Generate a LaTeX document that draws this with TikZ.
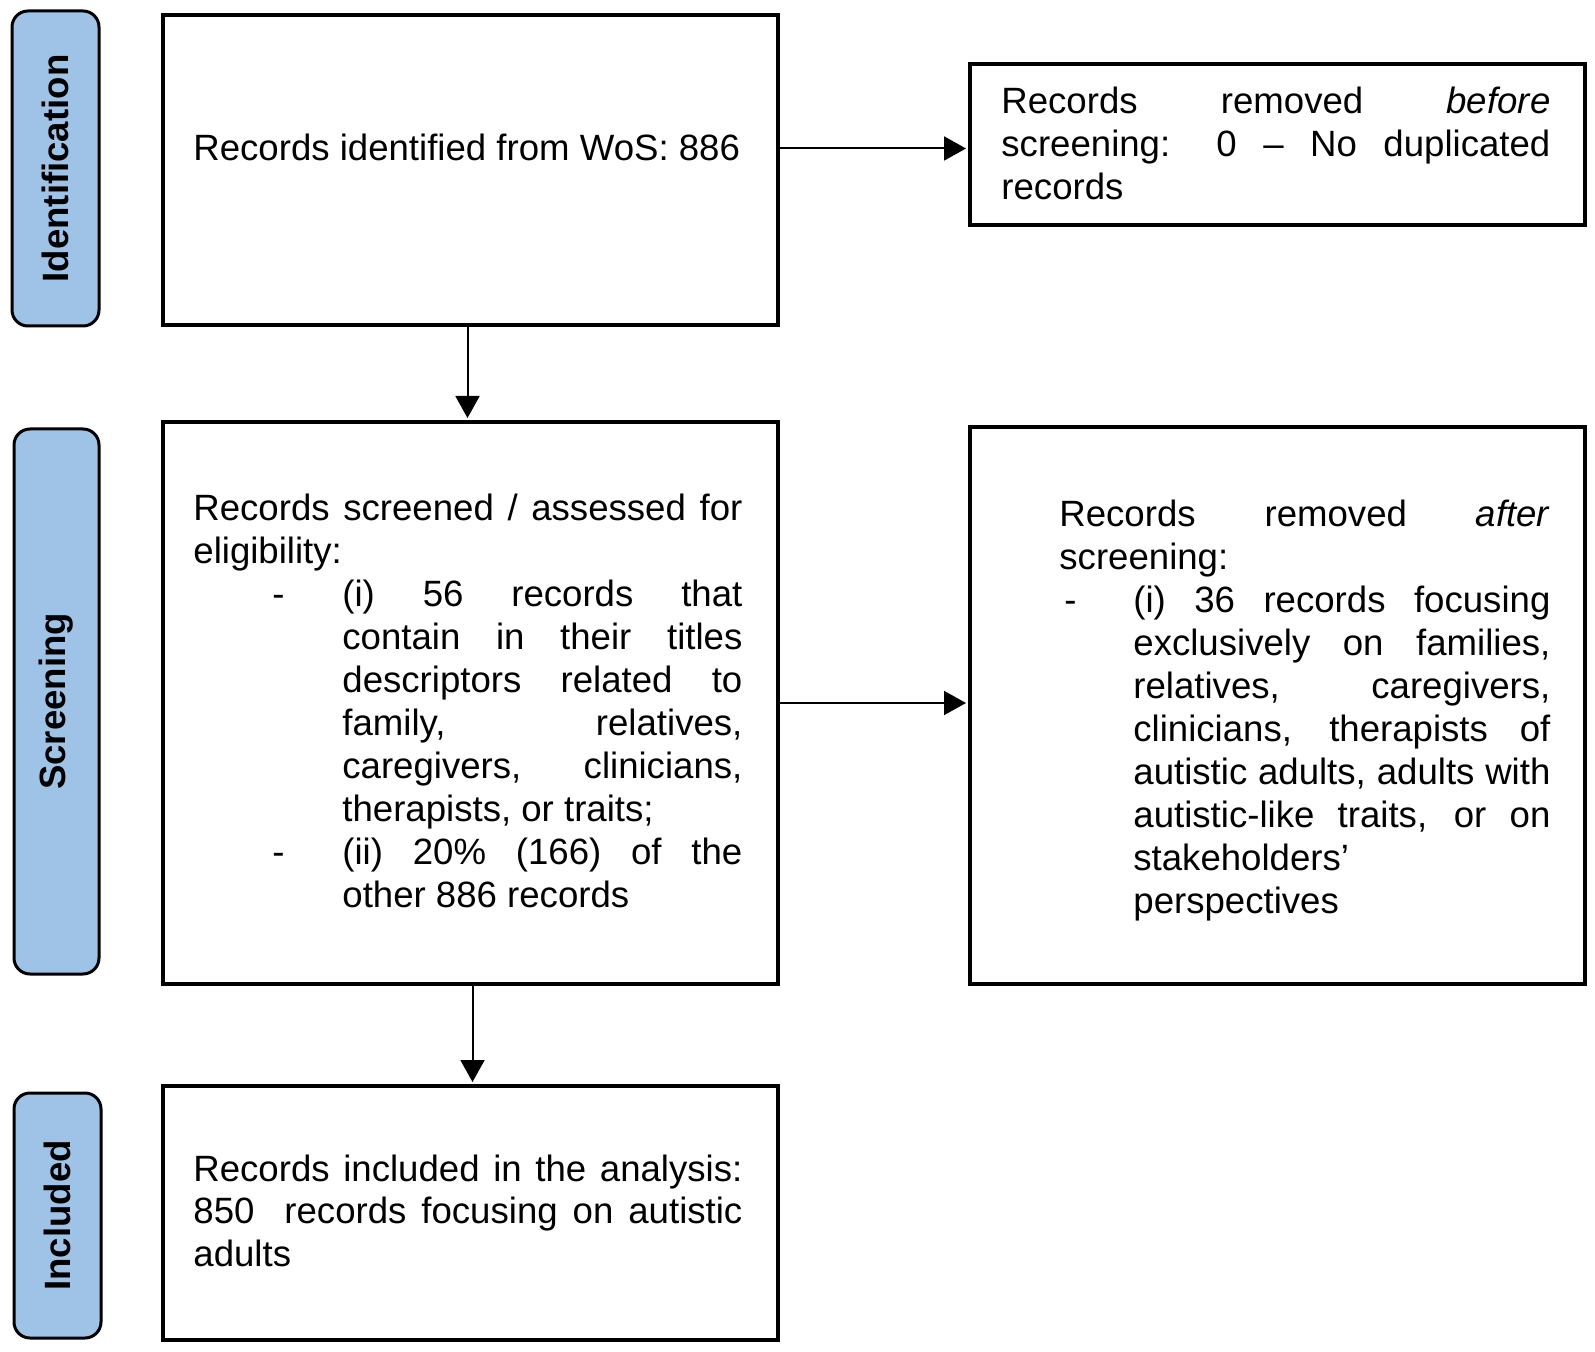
\documentclass[tikz,border=0pt]{standalone}
\usepackage{fontspec}
\setmainfont{Liberation Sans}
\usetikzlibrary{arrows.meta}
\definecolor{lblue}{HTML}{9FC3E7}
\newlength\itemind
\newlength\dashoff
\newcommand\JL[1]{\makebox[\linewidth][s]{#1}\par}
\newcommand\LL[1]{\makebox[\linewidth][l]{#1}\par}
\newcommand\DI[1]{\makebox[\itemind][l]{\hspace*{\dashoff}-}\makebox[\dimexpr\linewidth-\itemind\relax][s]{#1}\par}
\newcommand\JI[1]{\hspace*{\itemind}\makebox[\dimexpr\linewidth-\itemind\relax][s]{#1}\par}
\newcommand\LI[1]{\hspace*{\itemind}\makebox[\dimexpr\linewidth-\itemind\relax][l]{#1}\par}
\hbadness=10000
\begin{document}
\begin{tikzpicture}[x=0.5pt,y=-0.5pt,
  font=\fontsize{18.3pt}{21.45pt}\selectfont,
  box/.style={draw=black, line width=2pt, fill=white, anchor=north west, inner sep=0pt},
  lbl/.style={draw=black, line width=1.5pt, fill=lblue, rounded corners=8pt, inner sep=0pt,
    font=\fontsize{18.3pt}{21.45pt}\selectfont\bfseries, rotate=90},
  txt/.style={anchor=base west, inner sep=0pt},
  arr/.style={draw=black, line width=1pt, -{Triangle[length=11pt,width=12pt]}, shorten >=1pt}]
\useasboundingbox (0,0) rectangle (1595,1352);
% stage labels
\node[lbl, minimum width=157.5pt, minimum height=43.5pt] (ident) at (55.5,168.5) {Identification};
\node[lbl, minimum width=272.5pt, minimum height=42.5pt] (screen) at (56.5,701.5) {Screening};
\node[lbl, minimum width=122.5pt, minimum height=43.5pt] (incl) at (57.5,1215.5) {Included};
% boxes
\node[box, minimum width=307.5pt, minimum height=155pt] (b1) at (161,13) {};
\node[box, minimum width=307.5pt, minimum height=80.5pt] (b2) at (968,62) {};
\node[box, minimum width=307.5pt, minimum height=281pt] (b3) at (161,420) {};
\node[box, minimum width=307.5pt, minimum height=278.5pt] (b4) at (968,425) {};
\node[box, minimum width=307.5pt, minimum height=127pt] (b5) at (161,1084) {};
% texts
\node[txt] (t1) at (193,161) {Records identified from WoS: 886};
\node[txt] (t2) at (1001,114) {\begin{minipage}[t]{274.5pt}
\JL{Records removed \textit{before}}
\JL{screening: 0 – No duplicated}
\LL{records}
\end{minipage}};
\node[txt] (t3) at (193,521) {\begin{minipage}[t]{274.5pt}
\setlength\itemind{74.5pt}\setlength\dashoff{39.5pt}
\JL{Records screened / assessed for}
\LL{eligibility:}
\DI{(i) 56 records that}
\JI{contain in their titles}
\JI{descriptors related to}
\JI{family, relatives,}
\JI{caregivers, clinicians,}
\LI{therapists, or traits;}
\DI{(ii) 20\% (166) of the}
\LI{other 886 records}
\end{minipage}};
\node[txt] (t4) at (1059,527) {\begin{minipage}[t]{245.5pt}
\setlength\itemind{37pt}\setlength\dashoff{2.5pt}
\JL{Records removed \textit{after}}
\LL{screening:}
\DI{(i) 36 records focusing}
\JI{exclusively on families,}
\JI{relatives, caregivers,}
\JI{clinicians, therapists of}
\JI{autistic adults, adults with}
\JI{autistic-like traits, or on}
\LI{stakeholders’}
\LI{perspectives}
\end{minipage}};
\node[txt] (t5) at (193,1181) {\begin{minipage}[t]{274.5pt}
\JL{Records included in the analysis:}
\JL{850\ \ records focusing on autistic}
\LL{adults}
\end{minipage}};
% connectors
\draw[arr] ([yshift=-2pt]b2.west -| b1.east) -- ([yshift=-2pt]b2.west);
\draw[arr] ([xshift=-1.5pt]b1.south) -- ([xshift=-1.5pt]b1.south |- b3.north);
\draw[arr] (b3.east) -- (b3.east -| b4.west);
\draw[arr] ([xshift=1pt]b3.south) -- ([xshift=1pt]b3.south |- b5.north);
\end{tikzpicture}
\end{document}
